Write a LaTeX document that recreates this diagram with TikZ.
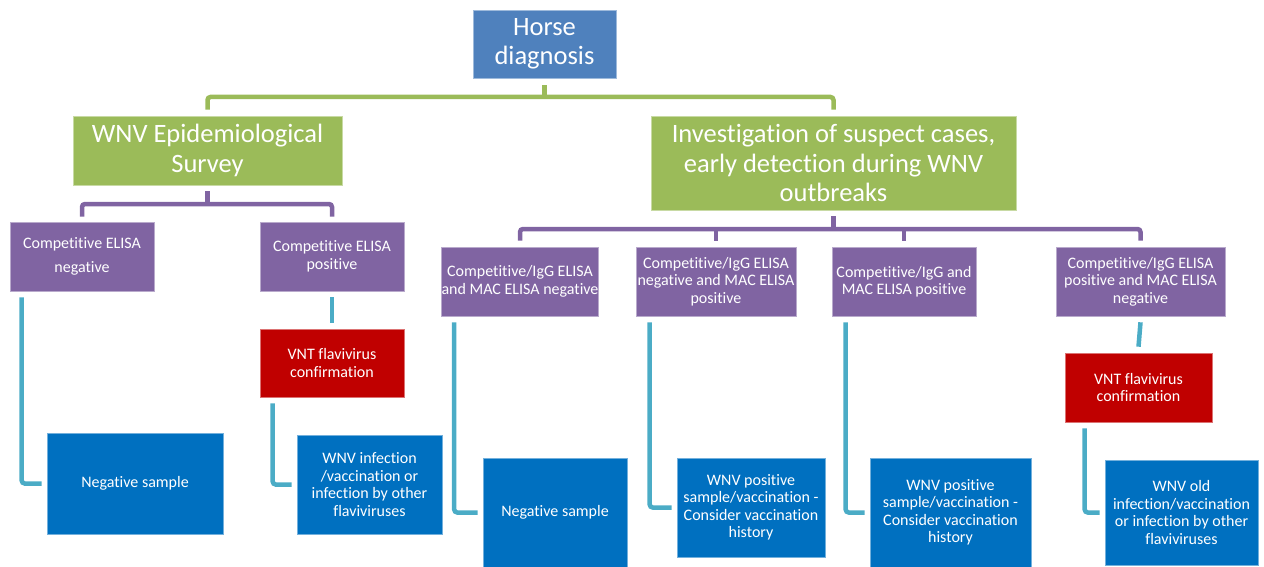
\documentclass[tikz,border=0pt]{standalone}
\usepackage{fontspec}
\setmainfont{Carlito}[Ligatures=NoCommon]
\usetikzlibrary{positioning, calc}
\definecolor{hdrblue}{RGB}{79,129,189}
\definecolor{mygreen}{RGB}{155,187,89}
\definecolor{mypurple}{RGB}{128,100,162}
\definecolor{myred}{RGB}{192,0,0}
\definecolor{myblue}{RGB}{0,112,192}
\definecolor{mycyan}{RGB}{75,172,198}
\tikzset{
  box/.style={rectangle, fill=#1, draw=#1!55!white, line width=0.6pt,
    text=white, align=center, inner sep=0pt},
  bigbox/.style={box=#1, font=\fontsize{26.5}{29.5}\selectfont},
  smallbox/.style={box=#1, font=\fontsize{16}{17.5}\selectfont},
  link/.style={line width=4.5pt, color=#1, rounded corners=3pt}
}
\begin{document}
\begin{tikzpicture}[x=1pt, y=-1pt]
  \useasboundingbox (0,0) rectangle (1264,567);

  % top levels
  \node[bigbox=hdrblue, minimum width=143pt, minimum height=68pt] (horse) at (544.5,44) {Horse\\diagnosis};
  \node[bigbox=mygreen, minimum width=269pt, minimum height=69pt] (survey) at (207.5,150.5) {WNV Epidemiological\\Survey};
  \node[bigbox=mygreen, minimum width=365pt, minimum height=94pt] (invest) at (833.5,163) {Investigation of suspect cases,\\early detection during WNV\\outbreaks};

  % ELISA results
  \node[smallbox=mypurple, minimum width=144pt, minimum height=69pt] (cneg) at (82,256.5) {Competitive ELISA\\[7pt]negative};
  \node[smallbox=mypurple, minimum width=144pt, minimum height=69pt] (cpos) at (332,256.5) {Competitive ELISA\\positive};
  \node[smallbox=mypurple, minimum width=156pt, minimum height=69pt] (c1) at (520,281.5) {Competitive/IgG ELISA\\and MAC ELISA negative};
  \node[smallbox=mypurple, minimum width=160pt, minimum height=69pt] (c2) at (716,281.5) {Competitive/IgG ELISA\\negative and MAC ELISA\\positive};
  \node[smallbox=mypurple, minimum width=144pt, minimum height=69pt] (c3) at (904,281.5) {Competitive/IgG and\\MAC ELISA positive};
  \node[smallbox=mypurple, minimum width=169pt, minimum height=69pt] (c4) at (1140.5,281.5) {Competitive/IgG ELISA\\positive and MAC ELISA\\negative};

  % VNT confirmation
  \node[smallbox=myred, minimum width=144pt, minimum height=68pt] (vnt1) at (332,363) {VNT flavivirus\\confirmation};
  \node[smallbox=myred, minimum width=147pt, minimum height=69pt] (vnt2) at (1138.5,387.5) {VNT flavivirus\\confirmation};

  % outcomes
  \node[smallbox=myblue, minimum width=176pt, minimum height=101pt] (neg1) at (135,483.5) {Negative sample};
  \node[smallbox=myblue, minimum width=145pt, minimum height=99pt] (inf1) at (369.5,484.5) {WNV infection\\/vaccination or\\infection by other\\flaviviruses};
  \node[smallbox=myblue, minimum width=144pt, minimum height=109pt] (neg2) at (555,512.5) {Negative sample};
  \node[smallbox=myblue, minimum width=148pt, minimum height=99pt] (pos1) at (751,507.5) {WNV positive\\sample/vaccination -\\Consider vaccination\\history};
  \node[smallbox=myblue, minimum width=161pt, minimum height=109pt] (pos2) at (950.5,512.5) {WNV positive\\sample/vaccination -\\Consider vaccination\\history};
  \node[smallbox=myblue, minimum width=153pt, minimum height=105pt] (old) at (1181.5,512.5) {WNV old\\infection/vaccination\\or infection by other\\flaviviruses};

  % green branch
  \coordinate (gbar) at (0,97);
  \draw[link=mygreen] ([yshift=-7pt]horse.south) -- (horse.south |- gbar);
  \draw[link=mygreen] ([yshift=6pt]survey.north) |- (invest.north |- gbar) -- ([yshift=6pt]invest.north);

  % purple branches
  \coordinate (pbarL) at (0,204);
  \draw[link=mypurple] ([yshift=-6pt]survey.south) -- (survey.south |- pbarL);
  \draw[link=mypurple] ([yshift=5pt]cneg.north) |- (cpos.north |- pbarL) -- ([yshift=5pt]cpos.north);
  \coordinate (pbarR) at (0,229);
  \draw[link=mypurple] ([yshift=-6pt]invest.south) -- (invest.south |- pbarR);
  \draw[link=mypurple] ([yshift=6pt]c1.north) |- (c4.north |- pbarR) -- ([yshift=6pt]c4.north);
  \foreach \n in {c2,c3}
    \draw[link=mypurple] (\n.north |- pbarR) -- ([yshift=6pt]\n.north);

  % cyan links
  \draw[link=mycyan] ([xshift=12pt,yshift=-6pt]cneg.south west) |- ([xshift=-5pt]neg1.west);
  \draw[link=mycyan] ([yshift=-6pt]cpos.south) -- ([yshift=6pt]vnt1.north);
  \draw[link=mycyan] ([xshift=13pt,yshift=-6pt]vnt1.south west) |- ([xshift=-5pt]inf1.west);
  \draw[link=mycyan] ([xshift=13pt,yshift=-6pt]c1.south west) |- ([xshift=-5pt]neg2.west);
  \draw[link=mycyan] ([xshift=14pt,yshift=-6pt]c2.south west) |- ([xshift=-5pt]pos1.west);
  \draw[link=mycyan] ([xshift=14pt,yshift=-6pt]c3.south west) |- ([xshift=-5pt]pos2.west);
  \draw[link=mycyan] ([yshift=-6pt]c4.south) -- ([yshift=6pt]vnt2.north);
  \draw[link=mycyan] ([xshift=20pt,yshift=-6pt]vnt2.south west) |- ([xshift=-5pt]old.west);
\end{tikzpicture}
\end{document}
